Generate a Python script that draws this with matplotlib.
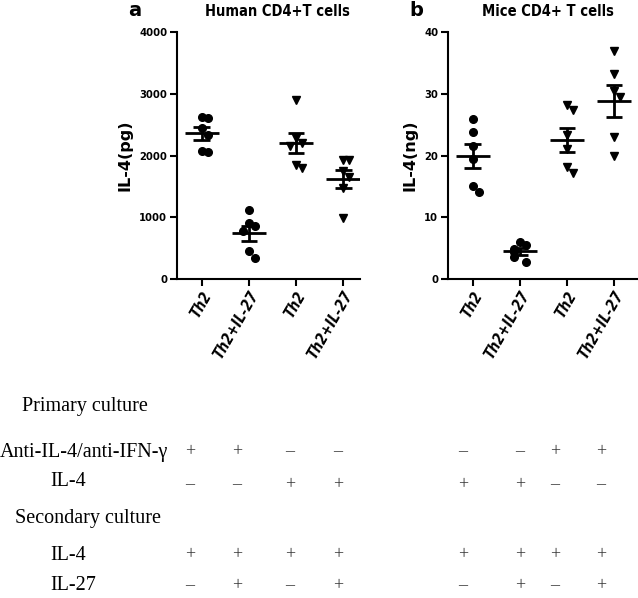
import numpy as np
import matplotlib
matplotlib.use("Agg")
from matplotlib import pyplot as plt

W, H = 638, 598
NARROW = ['Liberation Sans Narrow', 'DejaVu Sans']
SERIF = ['Liberation Serif', 'DejaVu Serif']

categories = ['Th2', 'Th2+IL-27', 'Th2', 'Th2+IL-27']
markers = ['o', 'o', 'v', 'v']

# human CD4+ T cells, IL-4 (pg)
human_th2_1 = [2620, 2600, 2450, 2330, 2080, 2060]
human_il27_1 = [1110, 900, 860, 770, 450, 340]
human_th2_2 = [2900, 2280, 2200, 2150, 1850, 1790]
human_il27_2 = [1930, 1920, 1750, 1650, 1480, 990]

# mice CD4+ T cells, IL-4 (ng)
mice_th2_1 = [25.9, 23.8, 21.5, 19.4, 15.0, 14.1]
mice_il27_1 = [6.0, 5.5, 4.8, 4.3, 3.5, 2.7]
mice_th2_2 = [28.2, 27.3, 23.3, 21.0, 18.1, 17.2]
mice_il27_2 = [37.0, 33.2, 30.4, 29.5, 23.0, 19.9]

# culture condition table
row_labels = ['Anti-IL-4/anti-IFN-γ', 'IL-4', 'IL-4', 'IL-27']
signs_human = [['+', '+', '-', '-'],
               ['-', '-', '+', '+'],
               ['+', '+', '+', '+'],
               ['-', '+', '-', '+']]
signs_mice = [['-', '-', '+', '+'],
              ['+', '+', '-', '-'],
              ['+', '+', '+', '+'],
              ['-', '+', '-', '+']]


def swarm(vals, delta, step=0.12):
    # spread points with close values sideways
    offs = []
    placed = []
    for v in vals:
        n = sum(1 for p in placed if abs(p - v) < delta)
        k = (n + 1) // 2
        offs.append(0 if n == 0 else (k if n % 2 else -k) * step)
        placed.append(v)
    return offs


def narrow(t, size):
    t.set_family(NARROW)
    t.set_stretch('condensed')
    t.set_fontweight('bold')
    t.set_fontsize(size)


def panel(ax, groups, ymax, ystep, ylabel, delta, label_x):
    for i, vals in enumerate(groups):
        vals = np.array(vals)
        offs = swarm(vals, delta)
        ax.plot(i + np.array(offs), vals, ls='none', marker=markers[i],
                color='black', ms=5.5, zorder=3)
        m = vals.mean()
        sem = vals.std(ddof=1) / np.sqrt(len(vals))
        ax.hlines(m, i - 0.36, i + 0.36, color='black', lw=2, zorder=4)
        ax.hlines([m - sem, m + sem], i - 0.18, i + 0.18, color='black', lw=2, zorder=4)
        ax.vlines(i, m - sem, m + sem, color='black', lw=2, zorder=4)
    ax.set_ylim(0, ymax)
    ax.set_yticks(np.arange(0, ymax + 1, ystep))
    ax.set_xticks(range(4))
    ax.set_xticklabels(categories, rotation=60, ha='right', va='top',
                       rotation_mode='anchor')
    for t in ax.get_xticklabels():
        narrow(t, 10.5)
        t.set_style('italic')
    for t in ax.get_yticklabels():
        narrow(t, 8)
    ax.set_ylabel(ylabel, fontweight='bold', fontsize=11.5, family='DejaVu Sans')
    ax.yaxis.set_label_coords(label_x, 0.5)
    ax.spines['top'].set_visible(False)
    ax.spines['right'].set_visible(False)
    ax.spines['left'].set_linewidth(1.5)
    ax.spines['bottom'].set_linewidth(1.5)
    ax.tick_params(width=1.5, length=5, pad=2)


def fx(x):
    return x / W


def fy(y):
    return 1 - y / H


fig = plt.figure(figsize=(W / 100, H / 100), dpi=100)

ax1 = fig.add_axes([fx(177), fy(279), fx(360 - 177), (279 - 32) / H])
panel(ax1, [human_th2_1, human_il27_1, human_th2_2, human_il27_2], 4000, 1000,
      'IL-4(pg)', 150, -0.245)
ax1.set_xlim(-0.53, 3.36)

ax2 = fig.add_axes([fx(448), fy(279), fx(638 - 448), (279 - 32) / H])
panel(ax2, [mice_th2_1, mice_il27_1, mice_th2_2, mice_il27_2], 40, 10,
      'IL-4(ng)', 1.5, -0.16)
ax2.set_xlim(-0.53, 3.51)

fig.text(fx(135), fy(11), 'a', fontsize=14, fontweight='bold', ha='center', va='center')
t = fig.text(fx(277), fy(12), 'Human CD4+T cells', ha='center', va='center')
narrow(t, 10.5)
fig.text(fx(416), fy(11), 'b', fontsize=14, fontweight='bold', ha='center', va='center')
t = fig.text(fx(548), fy(12), 'Mice CD4+ T cells', ha='center', va='center')
narrow(t, 10.5)

# culture table
fs = 14.5
fig.text(fx(22), fy(406), 'Primary culture', family=SERIF, fontsize=fs, va='center')
fig.text(fx(15), fy(519), 'Secondary culture', family=SERIF, fontsize=fs, va='center')
label_x = [0, 50, 50, 50]
row_y = [452, 482, 555, 586]
for lab, lx, ry in zip(row_labels, label_x, row_y):
    fig.text(fx(lx), fy(ry), lab, family=SERIF, fontsize=fs, va='center')

sign_y = [452, 485, 555, 586]
human_cols = [190, 237, 290, 338]
mice_cols = [463, 520, 555, 601]
for r, ry in enumerate(sign_y):
    for cx, s in zip(human_cols, signs_human[r]):
        fig.text(fx(cx), fy(ry), '+' if s == '+' else '–', family=SERIF,
                 fontsize=13, color='#333333', ha='center', va='center')
    for cx, s in zip(mice_cols, signs_mice[r]):
        fig.text(fx(cx), fy(ry), '+' if s == '+' else '–', family=SERIF,
                 fontsize=13, color='#333333', ha='center', va='center')

fig.savefig('out.png', dpi=100)
